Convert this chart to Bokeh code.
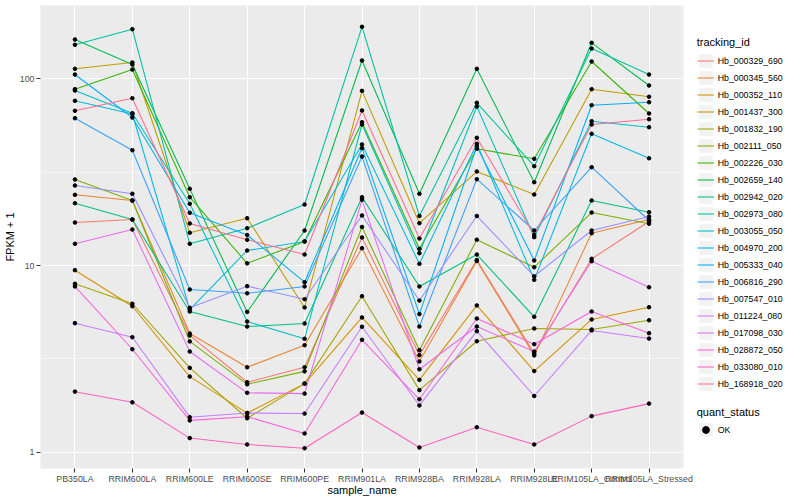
from bokeh.plotting import figure
from bokeh.layouts import row
from bokeh.models import (FactorRange, Range1d, FixedTicker, NumeralTickFormatter,
                          Legend, LegendItem, ColumnDataSource)
from bokeh.embed import file_html
from bokeh.resources import INLINE

# ---------------- data ----------------
samples = ["PB350LA", "RRIM600LA", "RRIM600LE", "RRIM600SE", "RRIM600PE",
           "RRIM901LA", "RRIM928BA", "RRIM928LA", "RRIM928LE",
           "RRIM105LA_Control", "RRIM105LA_Stressed"]

tracking_ids = ["Hb_000329_690", "Hb_000345_560", "Hb_000352_110", "Hb_001437_300",
                "Hb_001832_190", "Hb_002111_050", "Hb_002226_030", "Hb_002659_140",
                "Hb_002942_020", "Hb_002973_080", "Hb_003055_050", "Hb_004970_200",
                "Hb_005333_040", "Hb_006816_290", "Hb_007547_010", "Hb_011224_080",
                "Hb_017098_030", "Hb_028872_050", "Hb_033080_010", "Hb_168918_020"]

# FPKM + 1 per sample
Hb_000329_690 = [16.99, 17.63, 4.22, 2.37, 2.85, 14.13, 3.31, 10.70, 3.38, 10.86, 17.21]
Hb_000345_560 = [23.91, 22.29, 4.32, 2.85, 3.74, 12.38, 3.06, 10.57, 3.30, 14.89, 17.63]
Hb_000352_110 = [9.44, 6.05, 2.54, 1.62, 2.33, 5.27, 2.44, 6.11, 2.72, 5.14, 5.98]
Hb_001437_300 = [113.1, 122.3, 14.97, 17.92, 5.96, 86.2, 16.85, 31.87, 24.0, 88.0, 80.1]
Hb_001832_190 = [7.98, 6.24, 2.83, 1.52, 2.33, 6.85, 2.15, 3.93, 4.60, 4.54, 5.09]
Hb_002111_050 = [28.88, 22.29, 3.92, 2.31, 2.71, 16.08, 3.52, 13.75, 9.79, 19.22, 16.73]
Hb_002226_030 = [88.0, 112.1, 23.22, 10.27, 13.45, 58.55, 12.29, 42.19, 37.27, 123.8, 65.2]
Hb_002659_140 = [162.4, 119.3, 25.75, 5.64, 15.40, 125.3, 24.21, 113.1, 27.94, 155.9, 92.07]
Hb_002942_020 = [21.56, 17.63, 5.67, 4.71, 4.89, 23.22, 7.72, 11.45, 5.31, 22.29, 19.30]
Hb_002973_080 = [152.1, 184.4, 13.07, 15.84, 21.22, 189.9, 18.42, 74.37, 34.03, 145.3, 105.4]
Hb_003055_050 = [86.55, 65.42, 21.40, 5.01, 4.05, 56.92, 11.64, 71.04, 14.18, 59.28, 55.06]
Hb_004970_200 = [76.23, 64.79, 5.81, 12.03, 13.45, 44.48, 10.21, 44.86, 8.38, 50.75, 37.54]
Hb_005333_040 = [105.4, 62.04, 19.15, 14.57, 8.14, 42.50, 5.49, 43.55, 10.64, 72.20, 74.92]
Hb_006816_290 = [61.51, 41.46, 7.44, 7.10, 7.72, 38.35, 4.71, 28.99, 15.40, 33.61, 17.42]
Hb_007547_010 = [26.82, 24.21, 5.94, 7.75, 6.60, 18.53, 6.49, 18.42, 8.76, 15.40, 18.30]
Hb_011224_080 = [4.91, 4.13, 1.54, 1.62, 1.61, 4.70, 1.78, 4.45, 2.00, 4.49, 4.06]
Hb_017098_030 = [13.07, 15.59, 3.46, 2.08, 2.06, 22.48, 2.78, 4.71, 3.46, 10.54, 7.65]
Hb_028872_050 = [7.72, 3.56, 1.48, 1.55, 1.26, 4.00, 1.92, 5.20, 3.79, 5.67, 4.34]
Hb_033080_010 = [2.11, 1.85, 1.19, 1.10, 1.05, 1.63, 1.06, 1.36, 1.10, 1.56, 1.82]
Hb_168918_020 = [67.41, 78.72, 16.79, 13.73, 11.45, 67.66, 13.95, 48.31, 14.60, 56.92, 60.76]

series = [Hb_000329_690, Hb_000345_560, Hb_000352_110, Hb_001437_300, Hb_001832_190,
          Hb_002111_050, Hb_002226_030, Hb_002659_140, Hb_002942_020, Hb_002973_080,
          Hb_003055_050, Hb_004970_200, Hb_005333_040, Hb_006816_290, Hb_007547_010,
          Hb_011224_080, Hb_017098_030, Hb_028872_050, Hb_033080_010, Hb_168918_020]

quant_status = "OK"
y_ticks = [1, 10, 100]

# ---------------- style ----------------
colors = ["#F8766D", "#EA8331", "#D89000", "#C09B00", "#A3A500", "#7CAE00", "#39B600",
          "#00BB4E", "#00BF7D", "#00C1A3", "#00BFC4", "#00BAE0", "#00B0F6", "#35A2FF",
          "#9590FF", "#C77CFF", "#E76BF3", "#FA62DB", "#FF62BC", "#FF6C91"]
FONT = "Liberation Sans"

p = figure(x_range=FactorRange(factors=samples, range_padding=0.1,
                               range_padding_units="absolute"),
           y_range=Range1d(0.8178, 247.0), y_axis_type="log",
           frame_width=643, frame_height=463,
           min_border_left=40, min_border_right=12, min_border_top=5,
           min_border_bottom=28,
           output_backend="svg", toolbar_location=None)

p.background_fill_color = "#EBEBEB"
p.border_fill_color = "white"
p.outline_line_color = None

# grids
p.xgrid.grid_line_color = "white"
p.xgrid.grid_line_width = 1.07
p.ygrid.grid_line_color = "white"
p.ygrid.grid_line_width = 1.07
p.ygrid.minor_grid_line_color = "white"
p.ygrid.minor_grid_line_width = 0.53

p.yaxis.ticker = FixedTicker(ticks=y_ticks, minor_ticks=[10 ** 0.5, 10 ** 1.5])
p.yaxis.formatter = NumeralTickFormatter(format="0")

for ax in (p.xaxis[0], p.yaxis[0]):
    ax.axis_line_color = None
    ax.major_tick_line_color = "#333333"
    ax.major_tick_line_width = 1.07
    ax.major_tick_out = 4
    ax.major_tick_in = 0
    ax.minor_tick_line_color = None
    ax.major_label_text_font = FONT
    ax.major_label_text_font_size = "8.8px"
    ax.major_label_text_color = "#4D4D4D"
    ax.major_label_standoff = 1
    ax.axis_label_text_font = FONT
    ax.axis_label_text_font_size = "11px"
    ax.axis_label_text_font_style = "normal"
    ax.axis_label_text_color = "black"
    ax.axis_label_standoff = 0

p.yaxis.major_label_standoff = 2
p.yaxis.axis_label_standoff = 1
p.xaxis.axis_label_standoff = -3
p.xaxis.axis_label = "sample_name"
p.yaxis.axis_label = "FPKM + 1"

# lines
for vals, col in zip(series, colors):
    p.line(x=samples, y=vals, line_color=col, line_width=1.07)

# points
xs, ys = [], []
for vals in series:
    xs.extend(samples)
    ys.extend(vals)
src = ColumnDataSource(dict(x=xs, y=ys))
p.scatter(x="x", y="y", source=src, size=3.6, color="black")

# ---------------- legend panel ----------------
q = figure(width=105, height=496, x_range=Range1d(0, 1), y_range=Range1d(0, 1),
           x_axis_location=None, y_axis_location=None, min_border=0,
           output_backend="svg", toolbar_location=None)
q.grid.visible = False
q.outline_line_color = None
q.background_fill_color = "white"
q.border_fill_color = "white"

key_bg = q.quad(left=[5], right=[6], bottom=[5], top=[6],
                fill_color="#F2F2F2", line_color=None)

items = []
for name, col in zip(tracking_ids, colors):
    r = q.line(x=[5, 6], y=[5, 6], line_color=col, line_width=1.07)
    items.append(LegendItem(label=name, renderers=[key_bg, r]))
rp = q.scatter(x=[5], y=[5], size=3.6, color="black")


def style_legend(lg, standoff):
    lg.border_line_color = None
    lg.background_fill_alpha = 0
    lg.padding = 0
    lg.margin = 0
    lg.spacing = 0
    lg.glyph_width = 17
    lg.glyph_height = 17
    lg.label_height = 17
    lg.label_standoff = 4
    lg.label_text_font = FONT
    lg.label_text_font_size = "8.8px"
    lg.label_text_color = "black"
    lg.title_text_font = FONT
    lg.title_text_font_size = "11px"
    lg.title_text_font_style = "normal"
    lg.title_text_color = "black"
    lg.title_standoff = standoff


leg1 = Legend(items=items, title="tracking_id", location=(1.7, 74))
style_legend(leg1, 4)
q.add_layout(leg1, "center")

leg2 = Legend(items=[LegendItem(label=quant_status, renderers=[key_bg, rp])],
              title="quant_status", location=(1.7, 28))
style_legend(leg2, 3)
q.add_layout(leg2, "center")

layout = row(p, q)
open("out.html", "w").write(file_html(layout, INLINE))
